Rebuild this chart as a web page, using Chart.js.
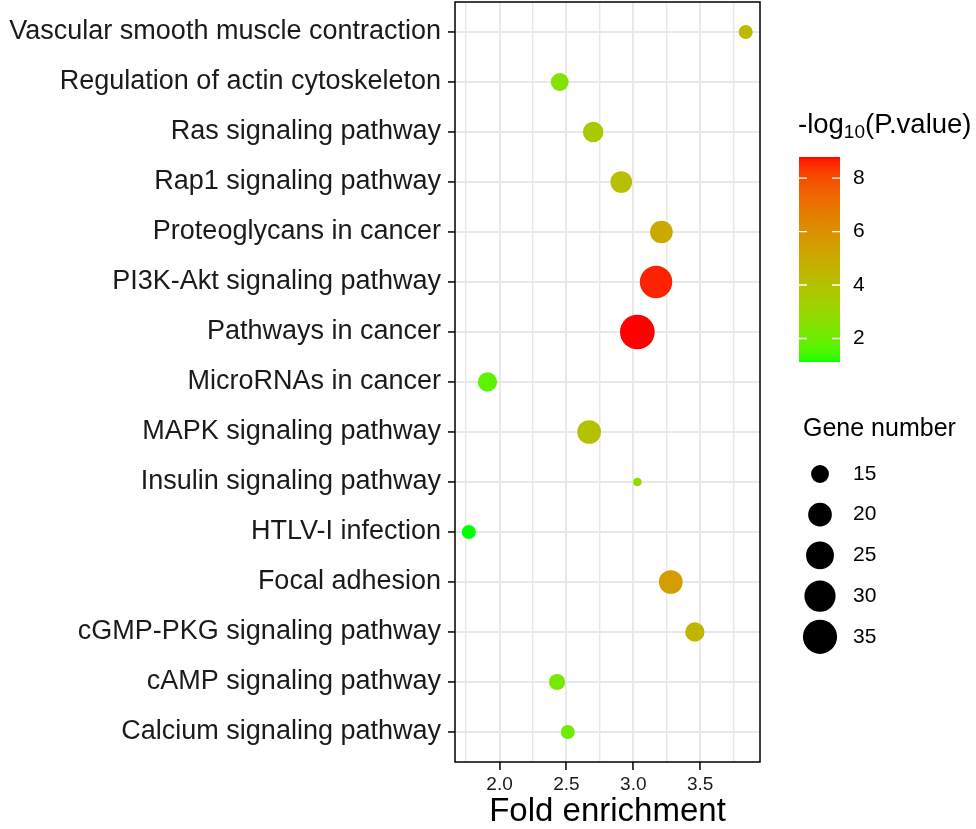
<!DOCTYPE html>
<html>
<head>
<meta charset="utf-8">
<script src="https://cdn.jsdelivr.net/npm/chart.js@4.4.0/dist/chart.umd.min.js"></script>
<style>
  html, body { margin: 0; padding: 0; background: #fff; }
  #wrap { width: 976px; height: 829px; }
</style>
</head>
<body>
<div id="wrap"><canvas id="chart" width="976" height="829"></canvas></div>
<script>
const pathways = [
  'Vascular smooth muscle contraction',
  'Regulation of actin cytoskeleton',
  'Ras signaling pathway',
  'Rap1 signaling pathway',
  'Proteoglycans in cancer',
  'PI3K-Akt signaling pathway',
  'Pathways in cancer',
  'MicroRNAs in cancer',
  'MAPK signaling pathway',
  'Insulin signaling pathway',
  'HTLV-I infection',
  'Focal adhesion',
  'cGMP-PKG signaling pathway',
  'cAMP signaling pathway',
  'Calcium signaling pathway'
];
const foldEnrichment = [3.84, 2.45, 2.70, 2.91, 3.21, 3.17, 3.03, 1.91, 2.67, 3.03, 1.77, 3.28, 3.46, 2.43, 2.51];
const geneNumber = [13, 15, 17, 18, 19, 32, 36, 16, 20, 12, 13, 20, 16, 14, 13];
const negLogP = [4.3, 2.5, 3.6, 4.1, 5.0, 8.6, 8.79, 1.75, 4.0, 2.9, 1.12, 5.5, 4.5, 2.25, 2.05];

const xTicks = [1.75, 2.0, 2.25, 2.5, 2.75, 3.0, 3.25, 3.5, 3.75];
const colorTicks = [2, 4, 6, 8];
const sizeBreaks = [15, 20, 25, 30, 35];

const FONT = '"Liberation Sans", Arial, Helvetica, sans-serif';

// colour gradient green -> red, interpolated in Lab like ggplot
function toLin(c) { c /= 255; return c <= 0.04045 ? c / 12.92 : Math.pow((c + 0.055) / 1.055, 2.4); }
function toSrgb(c) {
  c = c <= 0.0031308 ? 12.92 * c : 1.055 * Math.pow(Math.max(c, 0), 1 / 2.4) - 0.055;
  return Math.round(Math.max(0, Math.min(1, c)) * 255);
}
function rgbToLab(rgb) {
  const r = toLin(rgb[0]), g = toLin(rgb[1]), b = toLin(rgb[2]);
  const X = (0.4124 * r + 0.3576 * g + 0.1805 * b) / 0.95047;
  const Y = 0.2126 * r + 0.7152 * g + 0.0722 * b;
  const Z = (0.0193 * r + 0.1192 * g + 0.9505 * b) / 1.08883;
  const f = t => t > 0.008856 ? Math.cbrt(t) : 7.787 * t + 16 / 116;
  return [116 * f(Y) - 16, 500 * (f(X) - f(Y)), 200 * (f(Y) - f(Z))];
}
function labToRgb(lab) {
  const fy = (lab[0] + 16) / 116, fx = fy + lab[1] / 500, fz = fy - lab[2] / 200;
  const inv = t => t * t * t > 0.008856 ? t * t * t : (t - 16 / 116) / 7.787;
  const X = inv(fx) * 0.95047, Y = inv(fy), Z = inv(fz) * 1.08883;
  return [
    toSrgb(3.2406 * X - 1.5372 * Y - 0.4986 * Z),
    toSrgb(-0.9689 * X + 1.8758 * Y + 0.0415 * Z),
    toSrgb(0.0557 * X - 0.2040 * Y + 1.0570 * Z)
  ];
}
const labLow = rgbToLab([0, 255, 0]);
const labHigh = rgbToLab([255, 0, 0]);
const pMin = Math.min(...negLogP), pMax = Math.max(...negLogP);
function colorOf(v) {
  const t = Math.max(0, Math.min(1, (v - pMin) / (pMax - pMin)));
  const c = labToRgb(labLow.map((l, i) => l + (labHigh[i] - l) * t));
  return `rgb(${c[0]},${c[1]},${c[2]})`;
}

// point size (diameter, px) by area like scale_size
const gMin = Math.min(...geneNumber), gMax = Math.max(...geneNumber);
function sizeOf(v) {
  return 8.7 + 26 * Math.sqrt(Math.max(0, (v - gMin) / (gMax - gMin)));
}

const isMajor = v => Math.abs(v * 2 - Math.round(v * 2)) < 1e-6;

const framePlugin = {
  id: 'frame',
  afterDraw(chart) {
    const { ctx, chartArea: a } = chart;
    ctx.save();
    ctx.strokeStyle = '#000';
    ctx.lineWidth = 1.5;
    ctx.strokeRect(a.left, a.top, a.right - a.left, a.bottom - a.top);
    ctx.restore();
  }
};

const legendPlugin = {
  id: 'sideLegend',
  afterDraw(chart) {
    const ctx = chart.ctx;
    ctx.save();
    ctx.fillStyle = '#000';
    ctx.textAlign = 'left';
    ctx.textBaseline = 'alphabetic';

    // colour legend title
    let x = 798;
    ctx.font = `27.5px ${FONT}`;
    ctx.fillText('-log', x, 133);
    x += ctx.measureText('-log').width;
    ctx.font = `19px ${FONT}`;
    ctx.fillText('10', x, 138);
    x += ctx.measureText('10').width;
    ctx.font = `27.5px ${FONT}`;
    ctx.fillText('(P.value)', x, 133);

    // colour bar
    const bx = 799, bw = 41, top = 157, bottom = 362;
    for (let y = top; y < bottom; y++) {
      const v = pMax - (y + 0.5 - top) / (bottom - top) * (pMax - pMin);
      ctx.fillStyle = colorOf(v);
      ctx.fillRect(bx, y, bw, 1);
    }
    ctx.strokeStyle = '#fff';
    ctx.lineWidth = 1.3;
    ctx.font = `21px ${FONT}`;
    ctx.textBaseline = 'middle';
    colorTicks.forEach(v => {
      const y = bottom - (v - pMin) / (pMax - pMin) * (bottom - top);
      ctx.beginPath();
      ctx.moveTo(bx, y); ctx.lineTo(bx + 8, y);
      ctx.moveTo(bx + bw - 8, y); ctx.lineTo(bx + bw, y);
      ctx.stroke();
      ctx.fillStyle = '#000';
      ctx.fillText(String(v), 853, y);
    });

    // size legend
    ctx.textBaseline = 'alphabetic';
    ctx.font = `25px ${FONT}`;
    ctx.fillText('Gene number', 803, 436);
    ctx.font = `21px ${FONT}`;
    ctx.textBaseline = 'middle';
    sizeBreaks.forEach((v, i) => {
      const y = 474 + i * 40.7;
      ctx.beginPath();
      ctx.arc(820, y, sizeOf(v) / 2, 0, Math.PI * 2);
      ctx.fillStyle = '#000';
      ctx.fill();
      ctx.fillText(String(v), 853, y);
    });
    ctx.restore();
  }
};

const colors = negLogP.map(colorOf);

new Chart(document.getElementById('chart'), {
  type: 'bubble',
  data: {
    datasets: [{
      data: pathways.map((p, i) => ({ x: foldEnrichment[i], y: i, r: sizeOf(geneNumber[i]) / 2 })),
      backgroundColor: colors,
      borderColor: colors,
      borderWidth: 0,
      hoverRadius: 0
    }]
  },
  options: {
    responsive: false,
    animation: false,
    devicePixelRatio: 1,
    layout: { autoPadding: false, padding: { top: 2, right: 216, left: 0, bottom: 0 } },
    plugins: { legend: { display: false }, tooltip: { enabled: false } },
    scales: {
      x: {
        type: 'linear',
        min: 1.667,
        max: 3.947,
        afterBuildTicks: s => { s.ticks = xTicks.map(v => ({ value: v })); },
        afterFit: s => { s.height = 67; s.paddingLeft = 0; s.paddingRight = 0; },
        border: { display: false },
        grid: {
          color: '#e8e8e8',
          lineWidth: c => (c.tick && isMajor(c.tick.value)) ? 1.9 : 1.4,
          tickColor: c => (c.tick && isMajor(c.tick.value)) ? '#111' : 'rgba(0,0,0,0)',
          tickLength: 8,
          tickWidth: 1.6
        },
        ticks: {
          autoSkip: false,
          maxRotation: 0,
          padding: 3,
          color: '#1a1a1a',
          font: { family: FONT, size: 19 },
          callback: v => isMajor(v) ? v.toFixed(1) : ''
        },
        title: {
          display: true,
          text: 'Fold enrichment',
          color: '#000',
          font: { family: FONT, size: 33, lineHeight: 1 },
          padding: { top: 0, bottom: 1 }
        }
      },
      y: {
        type: 'linear',
        reverse: true,
        min: -0.6,
        max: 14.6,
        afterBuildTicks: s => { s.ticks = pathways.map((p, i) => ({ value: i })); },
        afterFit: s => { s.width = 455; s.paddingTop = 0; s.paddingBottom = 0; },
        border: { display: false },
        grid: {
          color: '#e8e8e8',
          lineWidth: 1.9,
          tickColor: '#111',
          tickLength: 7,
          tickWidth: 1.6
        },
        ticks: {
          autoSkip: false,
          padding: 7,
          color: '#1a1a1a',
          font: { family: FONT, size: 27 },
          callback: v => pathways[v]
        }
      }
    }
  },
  plugins: [framePlugin, legendPlugin]
});
</script>
</body>
</html>
